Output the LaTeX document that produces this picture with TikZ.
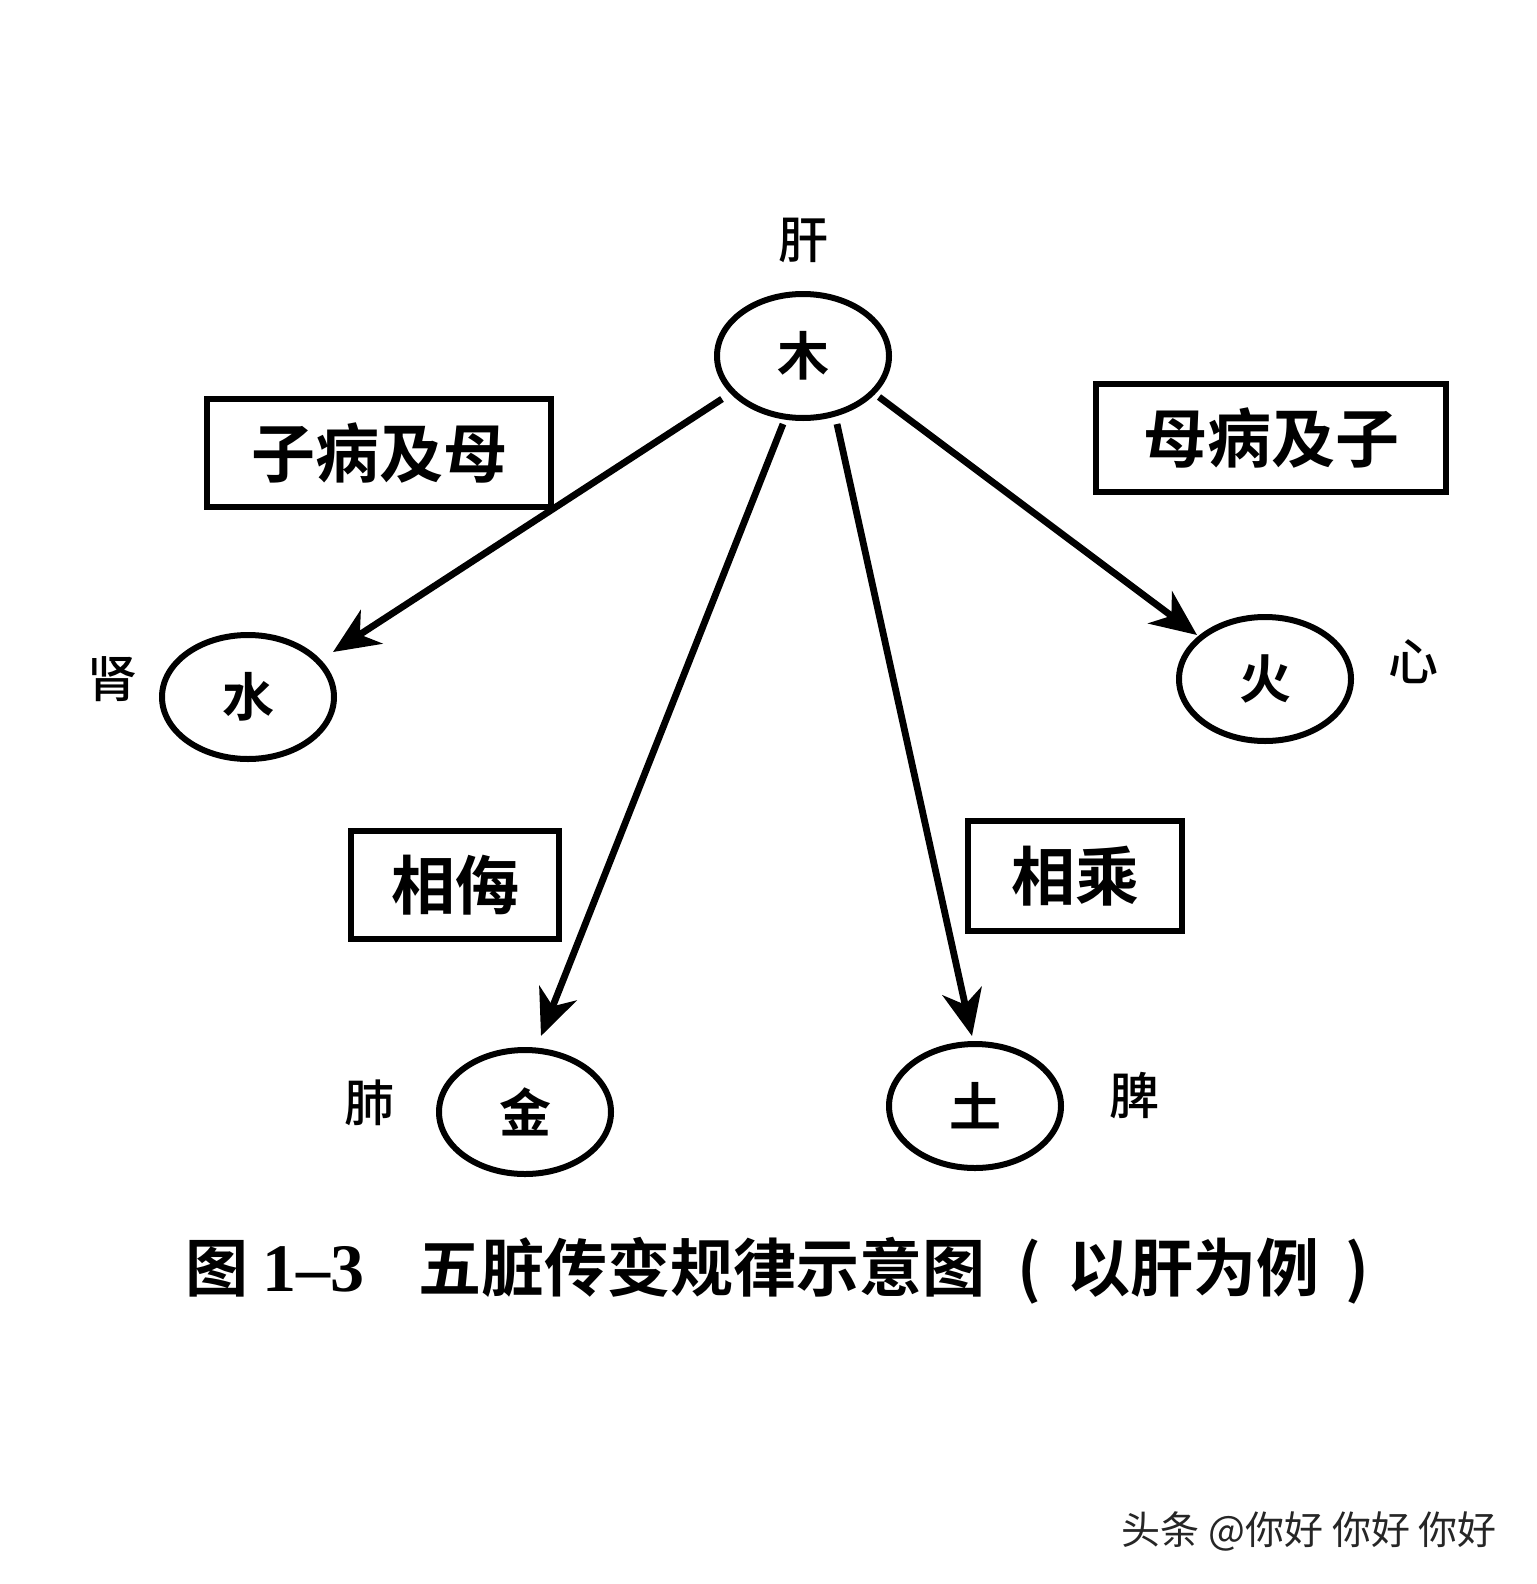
\documentclass[tikz,border=0pt]{standalone}
\usepackage{fontspec}
\usetikzlibrary{arrows.meta,shapes.geometric}
\newfontfamily\cjk{Noto Sans CJK SC}
\newfontfamily\cjkb{Noto Sans CJK SC Bold}
\newfontfamily\cjkm{Noto Sans CJK SC Medium}
\newfontfamily\serifb{Liberation Serif Bold}
\begin{document}
\begin{tikzpicture}[x=0.5pt,y=-0.5pt,
  elem/.style={draw,line width=3pt,ellipse,minimum width=86pt,minimum height=62pt,inner sep=0pt,font=\cjkb\fontsize{26}{26}\selectfont},
  organ/.style={font=\cjkm\fontsize{25}{25}\selectfont},
  lbox/.style={draw,line width=2.6pt,inner sep=0pt,font=\cjkb\fontsize{32}{32}\selectfont},
  conn/.style={line width=3.4pt,-{Stealth[length=23pt,width=20pt,inset=7pt]}}]
\useasboundingbox (0,0) rectangle (1536,1584);
\fill[white] (0,0) rectangle (1536,1584);
% elements
\node[elem] (mu) at (803,356) {木};
\node[elem] (shui) at (248,697) {水};
\node[elem] (huo) at (1265,679) {火};
\node[elem] (jin) at (525,1112) {金};
\node[elem] (tu) at (975,1106) {土};
% organs
\node[organ] (gan) at (803,240) {肝};
\node[organ] (shen) at (112,679) {肾};
\node[organ] (xin) at (1413,662) {心};
\node[organ] (fei) at (369,1103) {肺};
\node[organ] (pi) at (1134,1096) {脾};
% label boxes
\node[lbox,minimum width=172pt,minimum height=54pt] (b1) at (379,453) {子病及母};
\node[lbox,minimum width=175pt,minimum height=54pt] (b2) at (1271,438) {母病及子};
\node[lbox,minimum width=104pt,minimum height=54pt] (b3) at (455,885) {相侮};
\node[lbox,minimum width=107pt,minimum height=55pt] (b4) at (1075,876) {相乘};
% connectors
\coordinate (m1) at (722,399);
\coordinate (m2) at (783,424);
\coordinate (m3) at (837,424);
\coordinate (m4) at (879,397);
\coordinate (t1) at (333,652);
\coordinate (t2) at (541,1036);
\coordinate (t3) at (972,1036);
\coordinate (t4) at (1197,635);
\draw[conn] (m1) -- (t1);
\draw[conn] (m2) -- (t2);
\draw[conn] (m3) -- (t3);
\draw[conn] (m4) -- (t4);
% caption
\node[font=\cjkb\fontsize{31.5}{31.5}\selectfont,anchor=west,inner sep=0pt] (cap) at (185,1271) {图\hspace{7pt}{\serifb\fontsize{34}{34}\selectfont 1–3}\hspace{27pt}五脏传变规律示意图\hspace{16pt}(\hspace{13pt}以肝为例\hspace{13pt})};
% watermark
\node[font=\cjk\fontsize{19.5}{19.5}\selectfont,text=black!85,anchor=east] (wm) at (1504,1531) {头条 @你好 你好 你好};
\end{tikzpicture}
\end{document}
